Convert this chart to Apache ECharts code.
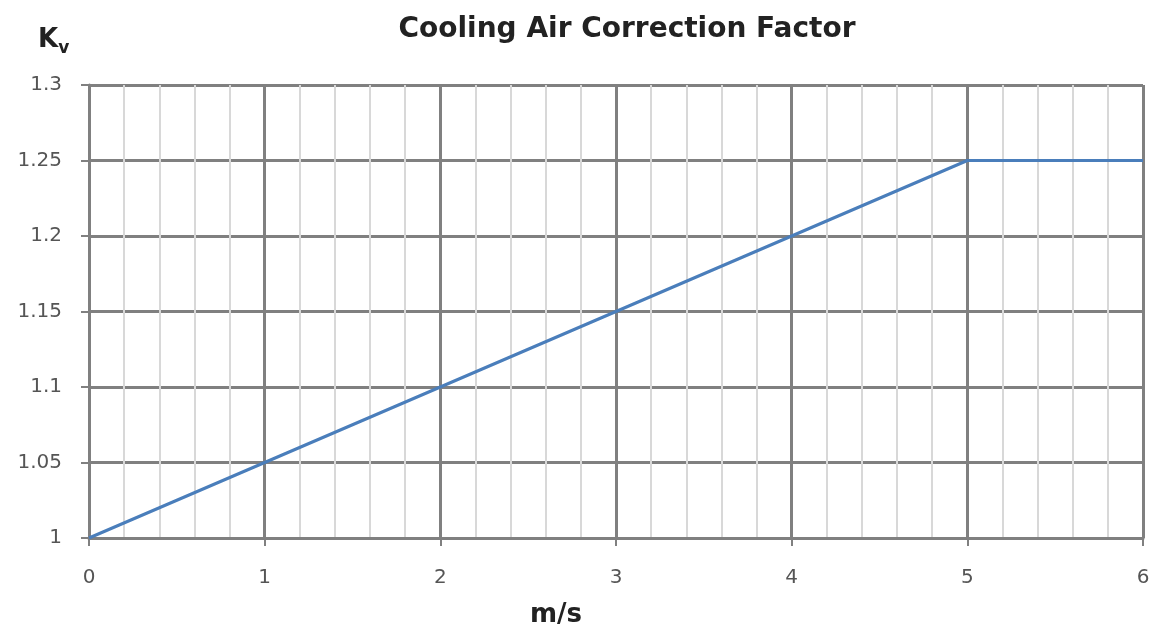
<!DOCTYPE html>
<html>
<head>
<meta charset="utf-8">
<script src="https://cdn.jsdelivr.net/npm/echarts@6/dist/echarts.min.js"></script>
<style>
  html, body { margin: 0; padding: 0; background: #fff; }
  #chart { width: 1156px; height: 628px; }
</style>
</head>
<body>
<div id="chart"></div>
<script>
// air speed (m/s) and correction factor Kv
var speeds = [0, 1, 2, 3, 4, 5, 6];
var kv = [1, 1.05, 1.1, 1.15, 1.2, 1.25, 1.25];

var points = speeds.map(function (s, i) { return [s, kv[i]]; });

var chart = echarts.init(document.getElementById("chart"));
chart.setOption({
  animation: false,
  title: [
    {
      text: "Cooling Air Correction Factor",
      left: 622,
      top: 11,
      textAlign: "center",
      textStyle: { fontFamily: "DejaVu Sans", fontSize: 28, fontWeight: "bold", color: "#222" }
    },
    {
      text: "{k|K}{v|v}",
      left: 33,
      top: 19,
      textStyle: {
        rich: {
          k: { fontFamily: "DejaVu Sans", fontSize: 26, fontWeight: "bold", color: "#222" },
          v: { fontFamily: "DejaVu Sans", fontSize: 17, fontWeight: "bold", color: "#222", padding: [16, 0, 0, 0] }
        }
      }
    },
    {
      text: "m/s",
      left: 551,
      top: 597,
      textAlign: "center",
      textStyle: { fontFamily: "DejaVu Sans", fontSize: 26, fontWeight: "bold", color: "#222" }
    }
  ],
  grid: { left: 89, right: 13, top: 85, bottom: 90 },
  xAxis: {
    type: "value",
    min: 0,
    max: 6,
    interval: 1,
    axisLine: { lineStyle: { color: "#808080", width: 3 } },
    axisTick: { show: true, length: 8, lineStyle: { color: "#808080", width: 2 } },
    axisLabel: { fontFamily: "DejaVu Sans", fontSize: 20, color: "#555", margin: 30 },
    splitLine: { lineStyle: { color: "#808080", width: 3 } },
    minorTick: { show: false, splitNumber: 5 },
    minorSplitLine: { show: true, lineStyle: { color: "#d8d8d8", width: 2 } }
  },
  yAxis: {
    type: "value",
    min: 1,
    max: 1.3,
    interval: 0.05,
    axisLine: { show: true, lineStyle: { color: "#808080", width: 3 } },
    axisTick: { show: true, length: 8, lineStyle: { color: "#808080", width: 2 } },
    axisLabel: { fontFamily: "DejaVu Sans", fontSize: 20, color: "#555", margin: 27 },
    splitLine: { lineStyle: { color: "#808080", width: 3 } }
  },
  series: [
    {
      type: "line",
      data: points,
      symbol: "none",
      lineStyle: { color: "#4a7ebb", width: 3 }
    }
  ]
});
</script>
</body>
</html>
